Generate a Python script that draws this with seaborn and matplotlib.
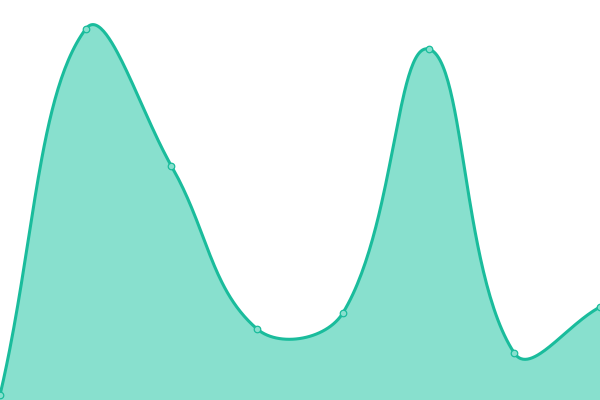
import numpy as np
import matplotlib
matplotlib.use("Agg")
import matplotlib.pyplot as plt
import seaborn as sns

# data (0 at the bottom edge, 400 at the top)
labels = ["p1", "p2", "p3", "p4", "p5", "p6", "p7", "p8"]
values = [5, 371, 234, 71, 87, 351, 47, 93]

LINE = "#1abc9c"
FILL = "#88e0ce"
TENSION = 0.4


def spline(xs, ys, t=TENSION, n=60):
    # bezier spline like chart.js (control points from neighbour distances)
    pts = np.column_stack([xs, ys]).astype(float)
    k = len(pts)
    cp_prev = pts.copy()
    cp_next = pts.copy()
    for i in range(k):
        prev = pts[max(i - 1, 0)]
        cur = pts[i]
        nxt = pts[min(i + 1, k - 1)]
        d01 = np.hypot(*(cur - prev))
        d12 = np.hypot(*(nxt - cur))
        tot = d01 + d12
        s01 = d01 / tot if tot else 0
        s12 = d12 / tot if tot else 0
        cp_prev[i] = cur - t * s01 * (nxt - prev)
        cp_next[i] = cur + t * s12 * (nxt - prev)
    u = np.linspace(0, 1, n)[:, None]
    out = []
    for i in range(k - 1):
        p0, p1, p2, p3 = pts[i], cp_next[i], cp_prev[i + 1], pts[i + 1]
        seg = ((1 - u) ** 3) * p0 + 3 * ((1 - u) ** 2) * u * p1 + 3 * (1 - u) * u ** 2 * p2 + u ** 3 * p3
        out.append(seg if i == 0 else seg[1:])
    out = np.vstack(out)
    return out[:, 0], out[:, 1]


#Criação Gráfico
fig = plt.figure(figsize=(6, 4), dpi=100)
ax = fig.add_axes([0, 0, 1, 1])

px = np.arange(len(values)) * 600 / (len(values) - 1)
sx, sy = spline(px, values)

ax.fill_between(sx, 0, sy, color=FILL, linewidth=0, zorder=1)
sns.lineplot(x=sx, y=sy, ax=ax, color=LINE, linewidth=2.2, sort=False, zorder=2)
sns.scatterplot(x=px, y=values, ax=ax, s=22, color=FILL, edgecolor=LINE,
                linewidth=0.9, zorder=3)

ax.set_xlim(0, 600)
ax.set_ylim(0, 400)
ax.axis("off")

plt.savefig("out.png", dpi=100)
